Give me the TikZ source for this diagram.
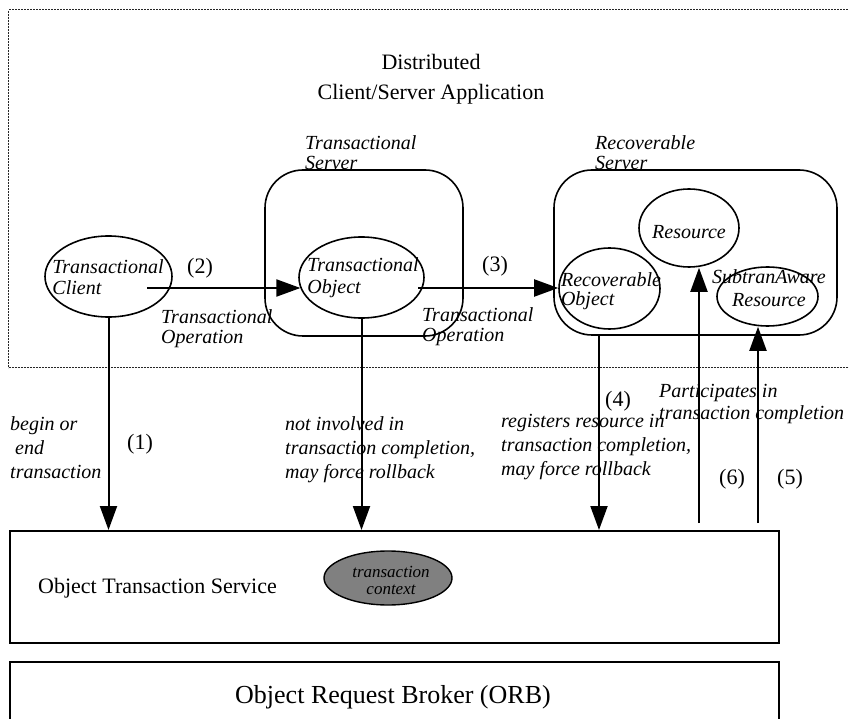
\documentclass[tikz,border=0pt]{standalone}
\usepackage{fontspec}
\setmainfont{Liberation Serif}[ItalicFont={Liberation Serif Italic}, BoldItalicFont={Liberation Serif Bold Italic}]
\usetikzlibrary{shapes.geometric,arrows.meta}

\tikzset{
  appframe/.style={draw=black!85, line width=1.3pt, dash pattern=on 2pt off 1pt},
  srvbox/.style={draw, line width=1.6pt, rounded corners=38pt, rectangle, inner sep=0pt},
  layerbox/.style={draw, line width=1.6pt, rectangle, inner sep=0pt},
  obj/.style={draw, line width=1.6pt, ellipse, inner sep=0pt},
  ctx/.style={draw, line width=1.4pt, ellipse, inner sep=0pt, fill=black!50},
  objtxt/.style={font=\fontsize{20}{21}\selectfont\itshape, inner sep=0pt, align=left},
  note/.style={font=\fontsize{20}{24}\selectfont\itshape, inner sep=0pt, align=left, anchor=north west},
  num/.style={font=\fontsize{22}{26}\selectfont, inner sep=0pt},
  arr/.style={line width=2pt, -{Triangle[length=24pt,width=17pt]}},
}

\begin{document}
\begin{tikzpicture}[x=1pt,y=-1pt]
\useasboundingbox (0,0) rectangle (849,719);
\clip (0,0) rectangle (849,719);

% application frame and its title
\node[appframe, anchor=north west, minimum width=860pt, minimum height=358pt, rectangle, inner sep=0pt] (app) at (8,9) {};
\node[font=\fontsize{22}{30}\selectfont, align=center, anchor=north, inner sep=0pt] (title) at (431,54)
  {Distributed\\Client/Server Application};

% servers
\node[srvbox, minimum width=198pt, minimum height=166pt] (ts) at (364,253) {};
\node[note, font=\fontsize{20}{20}\selectfont\itshape] (tslbl) at (305,135) {Transactional\\Server};
\node[srvbox, minimum width=283pt, minimum height=165pt] (rs) at (695.5,252.5) {};
\node[note, font=\fontsize{20}{20}\selectfont\itshape] (rslbl) at (595,135) {Recoverable\\Server};

% objects
\node[obj, minimum width=127pt, minimum height=81pt] (tc) at (108.5,276.5) {};
\node[objtxt] (tctxt) at (108,277.5) {Transactional\\Client};
\node[obj, minimum width=125pt, minimum height=81pt] (to) at (361.5,277.5) {};
\node[objtxt, font=\fontsize{20}{22}\selectfont\itshape] (totxt) at (363,277.5) {Transactional\\Object};
\node[obj, minimum width=101pt, minimum height=81pt] (ro) at (609.5,288.5) {};
\node[objtxt, font=\fontsize{20}{19}\selectfont\itshape] (rotxt) at (611,291) {Recoverable\\Object};
\node[obj, minimum width=100pt, minimum height=78pt] (res) at (689,228) {};
\node[objtxt] (restxt) at (689,232) {Resource};
\node[obj, minimum width=101pt, minimum height=59pt] (sar) at (767.5,296.5) {};
\node[objtxt, align=center, font=\fontsize{20}{23}\selectfont\itshape] (sartxt) at (769,288.5) {SubtranAware\\Resource};

% service layers
\node[layerbox, anchor=north west, minimum width=769pt, minimum height=112pt] (ots) at (9,530) {};
\node[font=\fontsize{22}{26}\selectfont, anchor=west, inner sep=0pt] (otstxt) at (38,588.5) {Object Transaction Service};
\node[ctx, minimum width=128pt, minimum height=54pt] (tctx) at (388,578) {};
\node[font=\fontsize{17}{17}\selectfont\itshape, align=center, inner sep=0pt] (tctxtxt) at (391,580) {transaction\\context};
\node[layerbox, anchor=north west, minimum width=769pt, minimum height=80pt] (orb) at (9,661) {};
\node[font=\fontsize{26}{30}\selectfont, anchor=west, inner sep=0pt] (orbtxt) at (235,697.5) {Object Request Broker (ORB)};

% connectors
\coordinate (c2) at (147,288);
\coordinate (c3) at (418,288);
\coordinate (c4) at (599,336);
\coordinate (c6) at (699,523);
\coordinate (c5) at (758,523);
\draw[arr] (c2) -- (c2 -| to.190);
\draw[arr] (c3) -- (c3 -| ro.west);
\draw[arr] (tc.south) -- (tc.south |- ots.north);
\draw[arr] (to.south) -- (to.south |- ots.north);
\draw[arr] (c4) -- (c4 |- ots.north);
\draw[arr] (c6) -- (c6 |- res.south);
\draw[arr] (c5) -- (c5 |- sar.south);

% connector labels
\node[num] (n1) at (140,444) {(1)};
\node[num] (n2) at (200,268) {(2)};
\node[num] (n3) at (495,266) {(3)};
\node[num] (n4) at (618,401) {(4)};
\node[num] (n6) at (732,479) {(6)};
\node[num] (n5) at (790,479) {(5)};
\node[note, font=\fontsize{20}{20}\selectfont\itshape] (op1) at (161,309) {Transactional\\Operation};
\node[note, font=\fontsize{20}{20}\selectfont\itshape] (op2) at (422,307) {Transactional\\Operation};
\node[note] (l1) at (10,416) {begin or\\\hspace*{5pt}end\\transaction};
\node[note] (l2) at (285,416) {not involved in\\transaction completion,\\may force rollback};
\node[note] (l4) at (501,414) {registers resource in\\transaction completion,\\may force rollback};
\node[note, font=\fontsize{20}{22}\selectfont\itshape] (l56) at (659,384) {Participates in\\transaction completion};
\end{tikzpicture}
\end{document}
